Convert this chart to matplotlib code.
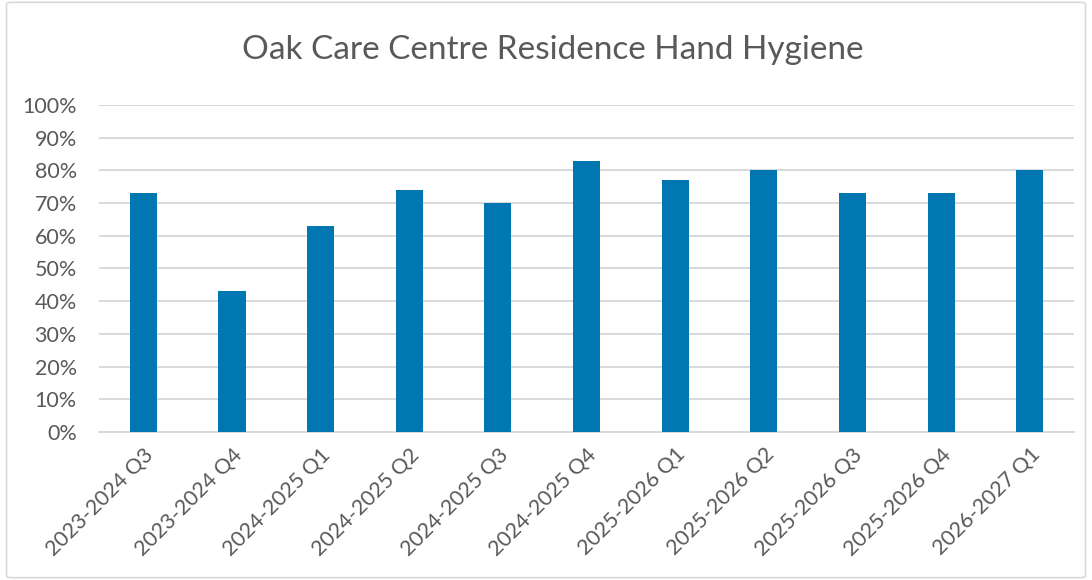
import matplotlib
matplotlib.use("Agg")
import matplotlib.pyplot as plt
from matplotlib.patches import FancyBboxPatch
from matplotlib.ticker import PercentFormatter

quarters = [
    "2023-2024 Q3", "2023-2024 Q4", "2024-2025 Q1", "2024-2025 Q2",
    "2024-2025 Q3", "2024-2025 Q4", "2025-2026 Q1", "2025-2026 Q2",
    "2025-2026 Q3", "2025-2026 Q4", "2026-2027 Q1",
]
hand_hygiene = [73, 43, 63, 74, 70, 83, 77, 80, 73, 73, 80]
y_ticks = list(range(0, 101, 10))

plt.rcParams["font.family"] = ["Lato", "DejaVu Sans"]
text_color = "#595959"

fig = plt.figure(figsize=(10.92, 5.80), dpi=100)
ax = fig.add_axes([0.0907, 0.2552, 0.8929, 0.5638])

x = range(len(quarters))
ax.bar(x, hand_hygiene, width=0.305, color="#0077b0", zorder=3)

ax.set_xlim(-0.5, len(quarters) - 0.5)
ax.set_ylim(0, 100)
ax.set_yticks(y_ticks)
ax.yaxis.set_major_formatter(PercentFormatter(decimals=0))
ax.set_xticks(list(x))
ax.set_xticklabels(quarters, rotation=45, ha="right", rotation_mode="anchor")

ax.grid(axis="y", color="#d9d9d9", linewidth=1.4, zorder=0)
for side in ["top", "right", "left"]:
    ax.spines[side].set_visible(False)
ax.spines["bottom"].set_color("#d9d9d9")
ax.spines["bottom"].set_linewidth(1.4)
ax.tick_params(axis="both", length=0, labelsize=15.5, colors=text_color)
ax.tick_params(axis="y", pad=16)
ax.tick_params(axis="x", pad=9)

fig.text(0.5064, 0.913, "Oak Care Centre Residence Hand Hygiene",
         ha="center", va="center", fontsize=24, color=text_color)

border = FancyBboxPatch((0.006, 0.004), 0.988, 0.992, boxstyle="round,pad=0,rounding_size=0.004",
                        transform=fig.transFigure, facecolor="none",
                        edgecolor="#d9d9d9", linewidth=1.2)
fig.patches.append(border)

fig.savefig("out.png", dpi=100)
